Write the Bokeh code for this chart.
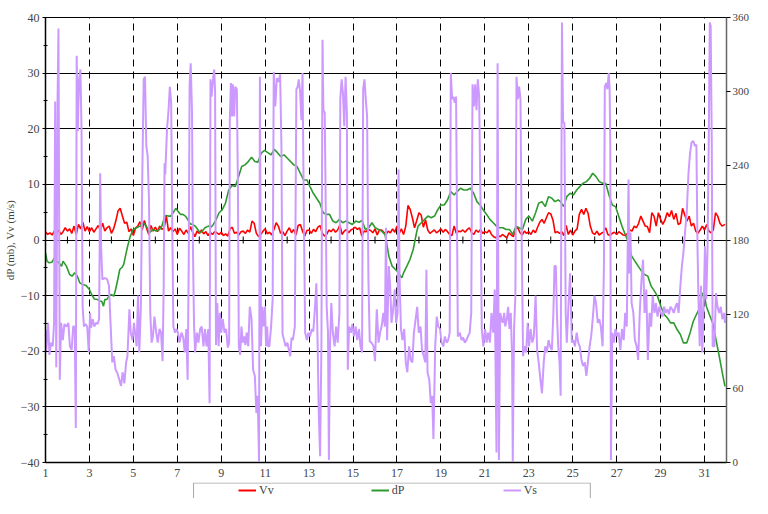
import numpy as np
from bokeh.plotting import figure
from bokeh.layouts import column
from bokeh.models import Range1d, LinearAxis, FixedTicker, Legend, LegendItem
from bokeh.embed import file_html
from bokeh.resources import INLINE

# ---------------- data (day of month, value) ----------------
vv_pts = [
    (1.0,1.5),(1.1,1.0),(1.2,1.3),(1.3,0.9),(1.4,1.6),(1.5,1.2),(1.6,1.8),(1.7,1.0),(1.8,1.5),(1.9,2.2),
    (2.0,1.6),(2.1,2.0),(2.2,1.2),(2.3,2.5),(2.4,1.0),(2.5,2.8),(2.6,2.0),(2.7,3.2),(2.8,1.6),(2.9,2.4),
    (3.0,1.5),(3.1,2.2),(3.2,1.4),(3.3,2.0),(3.4,2.6),(3.5,1.8),(3.6,3.0),(3.7,1.6),(3.8,2.2),(3.9,2.5),
    (4.0,1.2),(4.1,2.0),(4.2,3.4),(4.3,5.2),(4.4,5.7),(4.5,4.3),(4.6,3.0),(4.7,3.2),(4.8,1.5),(4.9,2.0),
    (5.0,0.8),(5.1,2.2),(5.2,2.5),(5.3,3.3),(5.4,1.8),(5.5,3.5),(5.6,2.1),(5.7,1.0),(5.8,2.6),(5.9,1.6),
    (6.0,2.3),(6.1,1.5),(6.2,2.5),(6.3,1.9),(6.4,2.2),(6.5,4.3),(6.6,1.6),(6.7,2.2),(6.8,1.5),(6.9,2.0),
    (7.0,1.0),(7.1,2.1),(7.2,1.6),(7.3,1.0),(7.4,1.8),(7.5,1.2),(7.6,2.4),(7.7,1.4),(7.8,0.6),(7.9,1.6),
    (8.0,1.2),(8.1,1.8),(8.2,1.1),(8.3,1.5),(8.4,0.8),(8.5,1.4),(8.6,1.0),(8.7,1.5),(8.8,1.3),(8.9,1.0),
    (9.0,1.4),(9.1,0.8),(9.2,1.1),(9.3,0.7),(9.4,2.0),(9.5,2.3),(9.6,1.2),(9.7,1.4),(9.8,0.9),(9.9,1.5),
    (10.0,1.6),(10.1,1.2),(10.2,1.8),(10.3,1.4),(10.4,3.4),(10.5,3.0),(10.6,1.2),(10.7,0.6),(10.8,1.0),(10.9,1.6),
    (11.0,2.0),(11.1,1.1),(11.2,1.4),(11.3,0.9),(11.4,1.9),(11.5,3.1),(11.6,2.5),(11.7,1.2),(11.8,1.5),(11.9,0.8),
    (12.0,1.6),(12.1,2.2),(12.2,1.3),(12.3,1.9),(12.4,0.9),(12.5,2.6),(12.6,2.8),(12.7,1.6),(12.8,0.7),(12.9,1.7),
    (13.0,1.8),(13.1,1.2),(13.2,1.9),(13.3,1.5),(13.4,2.3),(13.5,2.6),(13.6,1.2),(13.7,0.7),(13.8,1.0),(13.9,1.8),
    (14.0,1.5),(14.1,2.0),(14.2,1.4),(14.3,1.8),(14.4,2.7),(14.5,1.0),(14.6,1.6),(14.7,1.9),(14.8,1.3),(14.9,1.8),
    (15.0,2.0),(15.1,2.3),(15.2,1.9),(15.3,2.2),(15.4,0.7),(15.5,1.6),(15.6,1.5),(15.7,1.9),(15.8,1.7),(15.9,1.3),
    (16.0,2.0),(16.1,0.9),(16.2,1.8),(16.3,1.8),(16.4,1.4),(16.5,1.0),(16.6,1.6),(16.7,1.3),(16.8,2.0),(16.9,1.4),
    (17.0,2.5),(17.1,1.2),(17.2,2.0),(17.3,1.0),(17.4,2.5),(17.5,6.2),(17.6,5.5),(17.7,4.0),(17.8,2.2),(17.9,3.5),
    (18.0,4.9),(18.1,4.5),(18.2,2.3),(18.3,3.6),(18.4,1.8),(18.5,1.2),(18.6,1.5),(18.7,1.8),(18.8,1.3),(18.9,1.6),
    (19.0,2.0),(19.1,1.4),(19.2,1.9),(19.3,1.5),(19.4,1.0),(19.5,0.8),(19.6,2.5),(19.7,1.2),(19.8,1.6),(19.9,1.5),
    (20.0,1.8),(20.1,1.4),(20.2,1.9),(20.3,2.2),(20.4,1.3),(20.5,1.0),(20.6,1.8),(20.7,1.4),(20.8,1.9),(20.9,1.2),
    (21.0,1.5),(21.1,1.3),(21.2,1.8),(21.3,1.0),(21.4,0.6),(21.5,0.4),(21.6,0.8),(21.7,0.6),(21.8,1.0),(21.9,0.7),
    (22.0,0.4),(22.1,1.3),(22.2,0.9),(22.3,0.6),(22.4,2.0),(22.5,2.2),(22.6,1.3),(22.7,0.9),(22.8,1.6),(22.9,1.2),
    (23.0,1.5),(23.1,1.0),(23.2,1.8),(23.3,1.3),(23.4,2.3),(23.5,3.2),(23.6,3.7),(23.7,3.0),(23.8,4.0),(23.9,4.9),
    (24.0,4.7),(24.1,3.6),(24.2,1.3),(24.3,1.5),(24.4,1.2),(24.5,1.5),(24.6,0.8),(24.7,2.6),(24.8,1.0),(24.9,1.8),
    (25.0,0.9),(25.1,1.6),(25.2,2.0),(25.3,4.6),(25.4,5.5),(25.5,4.6),(25.6,5.7),(25.7,4.8),(25.8,2.5),(25.9,1.3),
    (26.0,1.0),(26.1,1.6),(26.2,0.9),(26.3,1.2),(26.4,1.4),(26.5,2.2),(26.6,1.0),(26.7,0.8),(26.8,1.2),(26.9,1.4),
    (27.0,1.0),(27.1,1.5),(27.2,1.2),(27.3,0.9),(27.4,0.8),(27.5,1.2),(27.6,1.8),(27.7,1.6),(27.8,2.5),(27.9,2.2),
    (28.0,3.0),(28.1,4.3),(28.2,3.4),(28.3,2.5),(28.4,2.4),(28.5,1.3),(28.6,4.9),(28.7,4.3),(28.8,2.5),(28.9,4.9),
    (29.0,3.7),(29.1,2.8),(29.2,3.6),(29.3,4.9),(29.4,4.2),(29.5,5.3),(29.6,3.7),(29.7,4.8),(29.8,2.8),(29.9,3.0),
    (30.0,5.7),(30.1,4.5),(30.2,3.4),(30.3,4.3),(30.4,2.5),(30.5,3.0),(30.6,1.6),(30.7,1.2),(30.8,1.8),(30.9,2.5),
    (31.0,1.8),(31.1,2.8),(31.2,1.6),(31.3,1.3),(31.4,1.8),(31.5,4.9),(31.6,4.3),(31.7,3.0),(31.8,2.5),(31.93,2.8),
]

dp_pts = [
    (1.0,-2.3),(1.07,-3.8),(1.17,-4.1),(1.29,-4.0),(1.41,-3.2),(1.51,-3.8),(1.61,-4.1),(1.73,-4.7),(1.8,-3.8),
    (1.95,-4.7),(2.1,-6.2),(2.21,-6.5),(2.33,-5.9),(2.45,-6.5),(2.56,-7.7),(2.7,-8.0),(2.85,-8.2),(3.0,-8.9),
    (3.1,-9.8),(3.22,-10.6),(3.37,-10.7),(3.49,-11.0),(3.56,-11.0),(3.64,-11.9),(3.7,-10.7),(3.79,-10.7),
    (3.89,-10.1),(3.99,-9.8),(4.11,-10.1),(4.19,-8.9),(4.29,-7.1),(4.38,-5.3),(4.49,-4.9),(4.56,-4.4),
    (4.64,-2.9),(4.74,-1.1),(4.86,0.7),(5.0,1.9),(5.15,2.2),(5.3,2.5),(5.44,3.1),(5.59,2.5),(5.74,1.3),
    (5.89,1.9),(6.04,1.6),(6.19,1.9),(6.3,2.5),(6.41,4.0),(6.48,4.4),(6.59,4.3),(6.7,4.3),(6.81,4.9),
    (6.93,5.7),(7.04,5.1),(7.15,4.6),(7.25,4.6),(7.37,4.3),(7.47,3.7),(7.59,2.9),(7.7,2.8),(7.81,2.5),
    (7.93,1.9),(8.04,1.3),(8.14,1.6),(8.26,2.2),(8.41,2.5),(8.53,2.3),(8.64,2.8),(8.75,3.5),(8.9,4.9),
    (9.04,5.4),(9.19,6.6),(9.34,9.0),(9.49,9.8),(9.64,9.6),(9.79,11.4),(9.93,13.2),(10.08,13.5),(10.23,14.1),
    (10.38,14.9),(10.53,14.1),(10.67,14.0),(10.82,15.6),(10.97,16.1),(11.12,15.7),(11.27,15.3),(11.41,16.3),
    (11.56,15.7),(11.71,15.0),(11.86,15.3),(12.01,14.7),(12.16,14.1),(12.3,13.5),(12.45,13.2),(12.6,12.0),
    (12.75,10.8),(12.9,10.8),(13.04,9.6),(13.19,8.4),(13.34,7.5),(13.49,6.6),(13.64,4.9),(13.79,4.6),
    (13.93,4.6),(14.08,3.4),(14.23,3.1),(14.38,3.7),(14.53,3.1),(14.67,3.4),(14.82,3.1),(14.97,2.8),
    (15.12,3.4),(15.27,3.2),(15.41,3.5),(15.56,1.9),(15.71,2.2),(15.86,3.1),(16.01,2.2),(16.16,1.9),
    (16.3,1.6),(16.45,1.0),(16.5,0.1),(16.55,-1.1),(16.63,-2.9),(16.78,-4.7),(16.93,-5.3),(17.07,-5.9),
    (17.22,-6.8),(17.3,-5.9),(17.45,-4.7),(17.59,-3.5),(17.74,-1.7),(17.89,1.3),(17.96,2.5),(18.11,3.1),
    (18.26,3.7),(18.41,4.3),(18.56,4.0),(18.71,4.3),(18.85,5.4),(19.0,6.3),(19.15,6.3),(19.3,7.2),
    (19.45,8.7),(19.6,8.1),(19.74,8.7),(19.89,9.3),(20.04,9.0),(20.19,9.0),(20.34,9.3),(20.49,8.4),
    (20.64,6.9),(20.78,6.3),(20.93,5.4),(21.08,4.6),(21.23,3.7),(21.38,3.1),(21.53,2.5),(21.67,2.2),
    (21.82,2.2),(21.97,1.9),(22.12,1.9),(22.27,1.0),(22.42,2.5),(22.56,2.2),(22.71,1.9),(22.86,3.7),
    (23.01,4.3),(23.16,3.4),(23.31,4.9),(23.45,6.6),(23.6,6.9),(23.75,6.0),(23.9,7.8),(24.05,7.5),
    (24.19,6.9),(24.34,7.2),(24.44,6.9),(24.59,6.0),(24.73,7.8),(24.88,8.4),(25.03,8.1),(25.18,9.0),
    (25.32,9.6),(25.47,10.2),(25.62,10.5),(25.77,11.1),(25.91,12.0),(26.06,11.4),(26.21,10.5),(26.36,10.2),
    (26.5,10.2),(26.65,8.1),(26.8,6.3),(26.95,6.0),(27.09,4.3),(27.24,2.5),(27.39,1.0),(27.54,-0.5),
    (27.68,-2.9),(27.83,-3.8),(27.98,-4.7),(28.13,-5.6),(28.27,-6.2),(28.42,-6.5),(28.57,-8.3),(28.72,-9.2),
    (28.86,-10.1),(29.01,-11.9),(29.16,-13.4),(29.31,-14.0),(29.45,-14.9),(29.6,-14.9),(29.75,-16.1),
    (29.9,-17.0),(30.04,-18.5),(30.19,-18.5),(30.34,-16.7),(30.49,-14.6),(30.63,-13.4),(30.78,-12.2),
    (30.9,-9.5),(31.0,-10.1),(31.08,-11.9),(31.22,-13.4),(31.37,-14.9),(31.52,-17.9),(31.67,-20.9),
    (31.81,-23.9),(31.93,-26.3),
]

vs_pts = [
    (1.00,107),(1.03,89),(1.12,113),(1.18,87),(1.25,97),(1.33,94),(1.39,113),(1.44,292),(1.49,77),(1.55,294),
    (1.59,351),(1.65,67),(1.71,113),(1.79,99),(1.86,112),(1.96,110),(2.04,113),(2.11,94),(2.19,91),(2.26,110),
    (2.33,110),(2.38,28),(2.42,329),(2.47,268),(2.53,310),(2.59,318),(2.64,269),(2.69,126),(2.75,110),(2.82,112),
    (2.90,110),(2.97,89),(3.03,121),(3.07,109),(3.15,116),(3.22,110),(3.30,113),(3.37,112),(3.44,116),(3.49,234),
    (3.53,175),(3.59,148),(3.67,149),(3.74,149),(3.81,148),(3.89,143),(3.96,113),(4.04,81),(4.11,86),(4.19,75),
    (4.26,73),(4.36,67),(4.44,62),(4.51,73),(4.59,64),(4.67,81),(4.73,86),(4.82,124),(4.88,105),(4.96,99),
    (5.03,113),(5.10,101),(5.15,94),(5.21,135),(5.27,89),(5.34,126),(5.41,237),(5.47,310),(5.53,312),(5.59,256),
    (5.65,248),(5.71,213),(5.77,121),(5.83,97),(5.89,102),(5.96,118),(6.04,105),(6.11,97),(6.19,108),(6.26,105),
    (6.33,82),(6.38,143),(6.42,242),(6.45,233),(6.53,269),(6.60,285),(6.66,304),(6.72,291),(6.78,175),(6.82,110),
    (6.90,105),(6.96,108),(7.03,105),(7.10,97),(7.19,105),(7.27,101),(7.34,89),(7.41,108),(7.47,67),(7.52,161),
    (7.56,306),(7.61,323),(7.67,283),(7.71,175),(7.76,113),(7.81,89),(7.89,105),(7.96,97),(8.04,108),(8.11,110),
    (8.19,94),(8.26,108),(8.33,94),(8.41,108),(8.47,48),(8.51,310),(8.56,296),(8.61,307),(8.68,318),(8.72,300),
    (8.76,95),(8.82,129),(8.88,94),(8.94,121),(9.00,105),(9.07,116),(9.15,105),(9.22,108),(9.30,93),(9.36,97),
    (9.39,277),(9.44,307),(9.49,280),(9.53,306),(9.59,280),(9.64,304),(9.71,302),(9.76,223),(9.80,94),(9.86,87),
    (9.92,110),(9.98,97),(10.04,102),(10.10,95),(10.16,105),(10.23,94),(10.30,126),(10.38,116),(10.45,75),(10.53,70),
    (10.60,40),(10.66,54),(10.72,1),(10.76,312),(10.81,94),(10.87,126),(10.93,110),(10.99,126),(11.04,94),(11.09,110),
    (11.13,94),(11.19,94),(11.27,110),(11.34,132),(11.39,316),(11.46,288),(11.53,311),(11.61,308),(11.68,314),(11.74,256),
    (11.79,104),(11.86,99),(11.93,94),(12.01,97),(12.08,91),(12.14,86),(12.20,101),(12.26,99),(12.35,110),(12.42,302),
    (12.48,304),(12.53,310),(12.59,300),(12.65,277),(12.70,315),(12.76,202),(12.82,105),(12.90,99),(12.97,105),(13.04,102),
    (13.12,108),(13.19,106),(13.27,126),(13.33,145),(13.39,94),(13.44,40),(13.50,5),(13.56,94),(13.61,342),(13.65,285),
    (13.71,283),(13.76,202),(13.80,126),(13.86,105),(13.90,2),(13.95,94),(14.01,129),(14.08,105),(14.16,94),(14.23,110),
    (14.30,97),(14.38,121),(14.42,294),(14.48,310),(14.54,299),(14.60,272),(14.66,312),(14.72,283),(14.76,75),(14.82,110),
    (14.90,105),(14.97,112),(15.04,102),(15.12,110),(15.19,99),(15.27,108),(15.34,94),(15.41,89),(15.46,302),(15.52,310),
    (15.58,294),(15.64,280),(15.70,148),(15.76,98),(15.84,97),(15.93,94),(16.00,82),(16.08,124),(16.16,97),(16.23,105),
    (16.30,110),(16.38,121),(16.45,110),(16.50,190),(16.55,99),(16.63,159),(16.69,143),(16.75,113),(16.81,121),(16.90,140),
    (16.96,113),(17.03,121),(17.07,237),(17.12,148),(17.18,108),(17.25,99),(17.33,108),(17.40,81),(17.47,73),(17.55,94),
    (17.62,83),(17.70,81),(17.77,105),(17.85,116),(17.92,126),(17.99,105),(18.07,110),(18.14,91),(18.22,86),(18.29,81),
    (18.34,156),(18.39,73),(18.47,67),(18.54,48),(18.60,54),(18.66,19),(18.74,94),(18.81,118),(18.88,110),(18.96,108),
    (19.03,97),(19.11,94),(19.18,102),(19.26,97),(19.33,99),(19.40,105),(19.45,315),(19.51,294),(19.57,296),(19.63,291),
    (19.69,296),(19.73,202),(19.77,102),(19.86,105),(19.94,99),(20.01,101),(20.09,97),(20.16,99),(20.23,102),(20.31,105),
    (20.38,121),(20.44,306),(20.50,288),(20.56,306),(20.62,285),(20.68,310),(20.74,296),(20.80,213),(20.86,108),(20.93,94),
    (21.01,108),(21.08,97),(21.15,105),(21.23,97),(21.30,121),(21.38,105),(21.45,140),(21.53,8),(21.58,323),(21.64,2),
    (21.70,121),(21.76,116),(21.82,113),(21.88,121),(21.93,110),(22.00,116),(22.06,126),(22.12,108),(22.18,121),(22.24,86),
    (22.27,1),(22.33,108),(22.39,135),(22.44,312),(22.50,294),(22.56,304),(22.62,294),(22.68,175),(22.74,86),(22.80,94),
    (22.88,89),(22.95,113),(23.01,94),(23.08,108),(23.16,97),(23.23,102),(23.31,135),(23.38,91),(23.45,81),(23.53,67),
    (23.60,56),(23.68,81),(23.75,94),(23.82,89),(23.90,99),(23.97,94),(24.05,91),(24.12,121),(24.17,159),(24.23,159),
    (24.28,121),(24.34,94),(24.40,81),(24.45,54),(24.51,356),(24.56,275),(24.62,275),(24.68,121),(24.73,97),(24.81,129),
    (24.88,153),(24.96,97),(25.03,99),(25.10,94),(25.18,105),(25.25,97),(25.32,94),(25.40,83),(25.47,78),(25.55,81),
    (25.62,70),(25.69,81),(25.77,94),(25.84,102),(25.91,116),(25.99,135),(26.06,129),(26.14,113),(26.21,116),(26.28,110),
    (26.36,94),(26.42,159),(26.46,304),(26.52,307),(26.58,302),(26.64,315),(26.68,302),(26.71,256),(26.74,2),(26.80,105),
    (26.87,97),(26.95,108),(27.02,102),(27.09,105),(27.17,91),(27.24,108),(27.32,99),(27.39,121),(27.46,110),(27.54,229),
    (27.58,153),(27.63,186),(27.68,129),(27.76,121),(27.83,99),(27.91,94),(27.98,83),(28.05,121),(28.13,148),(28.20,164),
    (28.27,121),(28.35,140),(28.42,83),(28.50,121),(28.57,110),(28.64,135),(28.72,121),(28.79,129),(28.86,118),(28.94,126),
    (29.01,121),(29.09,118),(29.16,126),(29.23,121),(29.31,124),(29.38,120),(29.45,126),(29.53,124),(29.60,121),(29.68,126),
    (29.75,129),(29.82,121),(29.90,143),(29.97,159),(30.04,170),(30.12,188),(30.19,202),(30.27,234),(30.34,250),(30.41,259),
    (30.49,260),(30.56,256),(30.63,257),(30.68,175),(30.72,135),(30.78,94),(30.84,143),(30.90,89),(30.96,126),(31.02,175),
    (31.08,132),(31.14,175),(31.19,256),(31.24,356),(31.28,353),(31.33,256),(31.37,94),(31.45,94),(31.52,137),(31.59,126),
    (31.67,121),(31.74,126),(31.81,116),(31.89,121),(31.93,113),
]

vv_day = [d for d, _ in vv_pts]
vv = [v for _, v in vv_pts]
dp_day = [d for d, _ in dp_pts]
dp = [v for _, v in dp_pts]
vs_day = [d for d, _ in vs_pts]
vs = [v for _, v in vs_pts]

x_labels = list(range(1, 32, 2))        # 1,3,...,31
dash_days = list(range(3, 32, 2))       # dashed verticals
zero_ticks = list(range(2, 31, 2))      # small ticks on the zero line
left_ticks = list(range(-40, 41, 10))
left_minor = list(range(-35, 40, 10))
right_ticks = list(range(0, 361, 60))
grid_levels = [-30, -20, -10, 0, 10, 20, 30]

FONT = "Liberation Serif"
C_VV, C_DP, C_VS = "#ff0000", "#2f9a2f", "#cc99ff"

p = figure(width=752, height=482, output_backend="svg", toolbar_location=None,
           x_range=Range1d(1, 32), y_range=Range1d(-40, 40),
           min_border_left=42, min_border_right=15, min_border_top=17, min_border_bottom=20,
           background_fill_color="white", border_fill_color="white")
p.extra_y_ranges = {"vs": Range1d(0, 360)}
p.outline_line_color = "black"
p.outline_line_width = 1

# grids
p.ygrid.ticker = FixedTicker(ticks=grid_levels)
p.ygrid.grid_line_color = "black"
p.ygrid.grid_line_width = 1
p.xgrid.ticker = FixedTicker(ticks=dash_days)
p.xgrid.grid_line_color = "black"
p.xgrid.grid_line_width = 1
p.xgrid.grid_line_dash = "7 5"

# left axis
ya = p.left[0]
ya.ticker = FixedTicker(ticks=left_ticks, minor_ticks=left_minor)
ya.axis_label = "dP (mb), Vv (m/s)"
ya.axis_label_text_font = FONT
ya.axis_label_text_font_size = "11px"
ya.axis_label_text_font_style = "normal"
ya.axis_label_standoff = 2
ya.major_label_text_font = FONT
ya.major_label_text_font_size = "12px"
ya.major_label_standoff = 3
ya.major_tick_in = 3
ya.major_tick_out = 3
ya.minor_tick_in = 2
ya.minor_tick_out = 2
ya.axis_line_color = "black"
ya.axis_line_width = 1.5
ya.major_tick_line_color = "black"
ya.minor_tick_line_color = "black"

# bottom axis
xa = p.below[0]
xa.ticker = FixedTicker(ticks=x_labels, minor_ticks=[])
xa.major_label_text_font = FONT
xa.major_label_text_font_size = "12px"
xa.major_label_standoff = 6
xa.major_tick_in = 0
xa.major_tick_out = 0
xa.minor_tick_in = 0
xa.minor_tick_out = 0
xa.axis_line_color = "black"
xa.axis_line_width = 1.5

# right axis
ra = LinearAxis(y_range_name="vs", ticker=FixedTicker(ticks=right_ticks, minor_ticks=[]))
ra.major_label_text_font = FONT
ra.major_label_text_font_size = "11px"
ra.major_label_standoff = 2
ra.major_tick_in = 0
ra.major_tick_out = 4
ra.minor_tick_in = 0
ra.minor_tick_out = 0
ra.axis_line_color = "#666666"
ra.axis_line_width = 1.5
ra.major_tick_line_color = "black"
p.add_layout(ra, "right")

# small ticks on the zero line
p.scatter(zero_ticks, [0] * len(zero_ticks), marker="dash", angle=np.pi / 2, size=7,
          line_color="black", line_width=1)

# series
p.line(vv_day, vv, line_color=C_VV, line_width=1.6)
p.line(dp_day, dp, line_color=C_DP, line_width=1.6)
p.line(vs_day, vs, line_color=C_VS, line_width=2, y_range_name="vs")

# ---------------- legend strip below the chart (frame aligned with the chart) ----------------
lg = figure(width=752, height=16, output_backend="svg", toolbar_location=None,
            x_range=Range1d(1, 32), y_range=Range1d(0, 16),
            x_axis_location=None, y_axis_location=None, min_border=0,
            outline_line_color=None, background_fill_color="white", border_fill_color="white")
lg.grid.visible = False
# legend frame; its lower edge falls below the window, as in the original
lg.quad(left=[7.74], right=[25.8], bottom=[-6], top=[15.5], fill_color=None,
        line_color="#a6a6a6", line_width=1)
d_vv = lg.line([np.nan, np.nan], [np.nan, np.nan], line_color=C_VV, line_width=2)
d_dp = lg.line([np.nan, np.nan], [np.nan, np.nan], line_color=C_DP, line_width=2)
d_vs = lg.line([np.nan, np.nan], [np.nan, np.nan], line_color=C_VS, line_width=2)
legend = Legend(items=[LegendItem(label="Vv", renderers=[d_vv]),
                       LegendItem(label="dP", renderers=[d_dp]),
                       LegendItem(label="Vs", renderers=[d_vs])],
                orientation="horizontal", location=(193, 0),
                padding=0, margin=0, spacing=97,
                glyph_width=18, glyph_height=16, label_height=16, label_width=14,
                label_standoff=3, label_text_font=FONT, label_text_font_size="12px",
                border_line_alpha=0, background_fill_alpha=0)
lg.add_layout(legend)

layout = column(p, lg, spacing=0)

with open("out.html", "w") as f:
    f.write(file_html(layout, INLINE))
